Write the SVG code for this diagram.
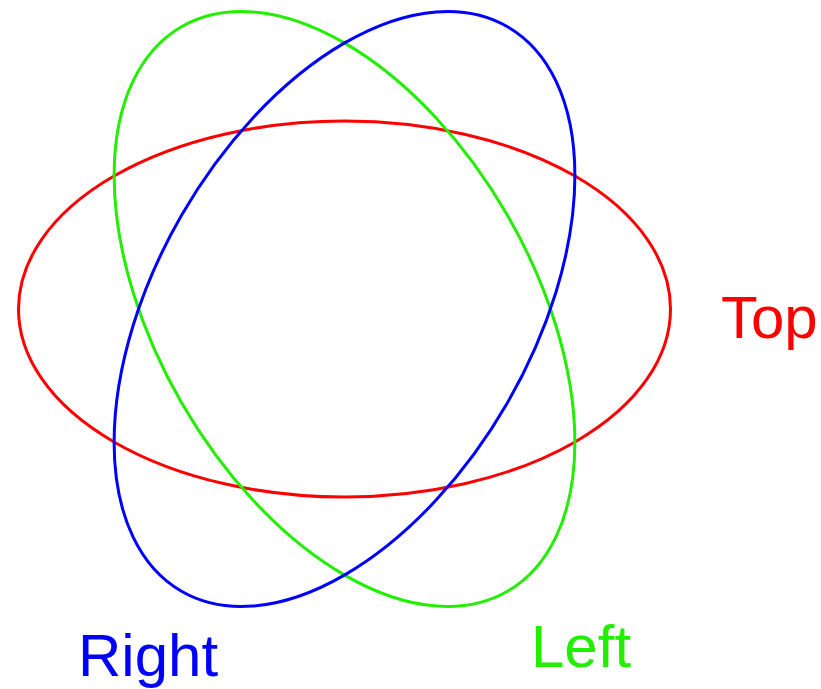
<svg xmlns="http://www.w3.org/2000/svg" width="821" height="689" viewBox="0 0 821 689">
<style>
.e{fill:none;stroke-width:3}
.t{font-family:"Liberation Sans",Arial,sans-serif;font-size:60px}
</style>
<rect width="821" height="689" fill="#fff"/>
<g id="top"><ellipse class="e" cx="344.5" cy="309" rx="326" ry="188" stroke="#ff0000"/><text class="t" x="721" y="338" fill="#ff0000">Top</text></g>
<g id="left"><ellipse class="e" cx="344.5" cy="309" rx="326" ry="188" stroke="#22ee00" transform="rotate(60 344.5 309)"/><text class="t" x="531" y="667" fill="#22ee00">Left</text></g>
<g id="right"><ellipse class="e" cx="344.5" cy="309" rx="326" ry="188" stroke="#0000ff" transform="rotate(-60 344.5 309)"/><text class="t" x="78" y="676" fill="#0000ff">Right</text></g>
</svg>
